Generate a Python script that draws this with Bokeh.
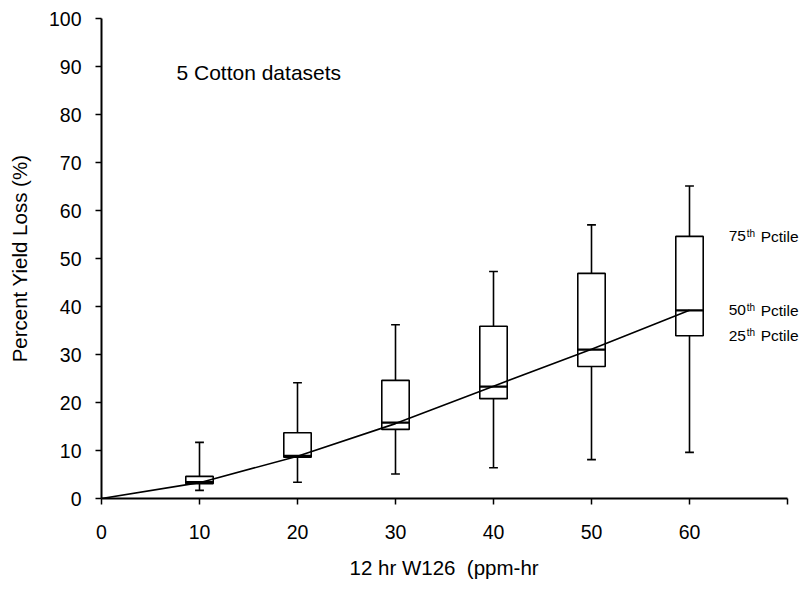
from bokeh.plotting import figure
from bokeh.models import Range1d, FixedTicker, Title
from bokeh.core.properties import value
from bokeh.embed import file_html
from bokeh.resources import INLINE

# ---- data ----
x = [10, 20, 30, 40, 50, 60]
whisker_low = [1.7, 3.4, 5.1, 6.4, 8.1, 9.6]
q1 = [3.1, 8.6, 14.4, 20.8, 27.5, 33.9]
median = [3.4, 8.9, 15.8, 23.3, 31.0, 39.2]
q3 = [4.6, 13.7, 24.6, 35.9, 46.9, 54.6]
whisker_high = [11.7, 24.1, 36.2, 47.3, 57.0, 65.1]
curve_x = [0, 10, 20, 30, 40, 50, 60]
curve_y = [0, 3.3, 8.8, 15.6, 23.4, 31.1, 39.2]
x_ticks = [0, 10, 20, 30, 40, 50, 60, 70]
y_ticks = [0, 10, 20, 30, 40, 50, 60, 70, 80, 90, 100]
pct_numbers = ["75", "50", "25"]
pct_values = [q3[-1], median[-1], q1[-1]]
note_text = "5 Cotton datasets"
x_title = "12 hr W126 \u00a0(ppm-hr"
y_title = "Percent Yield Loss (%)"

FONT = "Liberation Sans"
BOX_W = 2.8
CAP_HALF = 0.45
LW = 1.6

W, H = 811, 590
LEFT, TOP, BOTTOM = 101, 18, 92
AXIS_PX = 686  # pixels spanned by 0..70 on the x axis
X_MAX = 70
x_end = X_MAX * (W - LEFT) / AXIS_PX

p = figure(width=W, height=H, output_backend="svg", toolbar_location=None,
           x_range=Range1d(0, x_end), y_range=Range1d(0, 100),
           min_border_left=LEFT, min_border_right=0, min_border_top=TOP,
           min_border_bottom=BOTTOM)
p.outline_line_color = None
p.xgrid.visible = False
p.ygrid.visible = False
p.background_fill_color = "white"
p.border_fill_color = "white"

for ax in (p.xaxis[0], p.yaxis[0]):
    ax.axis_line_color = "black"
    ax.axis_line_width = 2
    ax.major_tick_line_color = "black"
    ax.major_tick_line_width = 1.5
    ax.major_tick_out = 6
    ax.major_tick_in = 0
    ax.minor_tick_line_color = None
    ax.major_label_text_font = FONT
    ax.major_label_text_font_size = "19.5px"
    ax.major_label_text_color = "black"
    ax.axis_label_text_font = FONT
    ax.axis_label_text_font_size = "20.5px"
    ax.axis_label_text_font_style = "normal"
    ax.axis_label_text_color = "black"

p.xaxis.ticker = FixedTicker(ticks=x_ticks)
p.xaxis.bounds = (0, X_MAX)
p.xaxis.major_label_overrides = {70: ""}
p.xaxis.major_label_standoff = 20

p.yaxis.ticker = FixedTicker(ticks=y_ticks)
p.yaxis.major_label_standoff = 14
p.yaxis.axis_label = y_title
p.yaxis.axis_label_standoff = 15

# x-axis title, centred under the drawn 0..70 axis (the frame extends further right)
TITLE_PX = 190  # approximate rendered width of the title text
p.add_layout(Title(text=x_title, align="left", offset=AXIS_PX / 2 - TITLE_PX / 2, standoff=24,
                   text_font=FONT, text_font_size="20.5px", text_font_style="normal",
                   text_color="black"), "below")

# whiskers
p.segment(x0=x, y0=q3, x1=x, y1=whisker_high, line_color="black", line_width=LW)
p.segment(x0=x, y0=whisker_low, x1=x, y1=q1, line_color="black", line_width=LW)
# caps
p.segment(x0=[v - CAP_HALF for v in x], y0=whisker_high, x1=[v + CAP_HALF for v in x],
          y1=whisker_high, line_color="black", line_width=LW)
p.segment(x0=[v - CAP_HALF for v in x], y0=whisker_low, x1=[v + CAP_HALF for v in x],
          y1=whisker_low, line_color="black", line_width=LW)
# boxes
p.vbar(x=x, width=BOX_W, bottom=q1, top=q3, fill_color="white",
       line_color="black", line_width=LW)
# medians
p.segment(x0=[v - BOX_W / 2 for v in x], y0=median, x1=[v + BOX_W / 2 for v in x],
          y1=median, line_color="black", line_width=2.2)

# fitted curve
p.line(curve_x, curve_y, line_color="black", line_width=LW)

# annotations
p.text(x=[7.65], y=[88.75], text=[note_text], text_font=value(FONT),
       text_font_size="21px", text_baseline="middle", text_align="left",
       text_color="black")

lab_x = [64.0] * 3
p.text(x=lab_x, y=pct_values, text=pct_numbers, text_font=value(FONT),
       text_font_size="15.5px", text_baseline="middle", text_align="left", text_color="black")
p.text(x=lab_x, y=pct_values, text=["th"] * 3, text_font=value(FONT),
       text_font_size="10px", text_baseline="middle", text_align="left",
       x_offset=18, y_offset=-3, text_color="black")
p.text(x=lab_x, y=pct_values, text=["Pctile"] * 3, text_font=value(FONT),
       text_font_size="15.5px", text_baseline="middle", text_align="left",
       x_offset=32, text_color="black")

open("out.html", "w").write(file_html(p, INLINE))
